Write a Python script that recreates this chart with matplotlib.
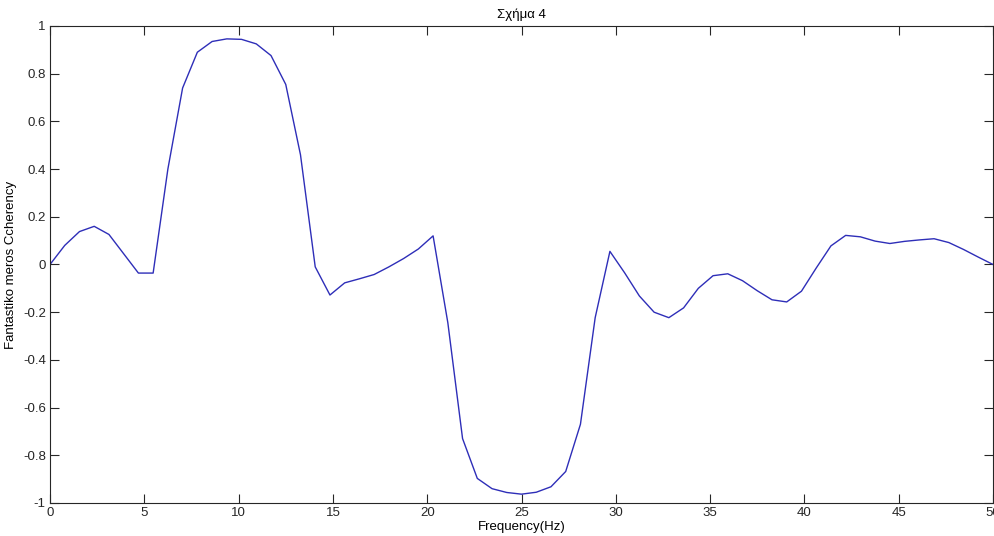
import numpy as np
import matplotlib
matplotlib.use("Agg")
import matplotlib.pyplot as plt
from matplotlib.ticker import FuncFormatter

# frequency bins: 65 samples from 0 to 50 Hz (step 50/64)
freq = np.linspace(0, 50, 65)

# imaginary part of coherency
imag_coh = [
    0.000, 0.080, 0.138, 0.160, 0.126, 0.045, -0.036, -0.036,
    0.400, 0.740, 0.890, 0.935, 0.946, 0.944, 0.925, 0.876,
    0.755, 0.460, -0.010, -0.128, -0.077, -0.060, -0.042, -0.010,
    0.025, 0.065, 0.120, -0.244, -0.730, -0.897, -0.940, -0.956,
    -0.963, -0.955, -0.932, -0.868, -0.670, -0.223, 0.055, -0.035,
    -0.132, -0.200, -0.223, -0.182, -0.100, -0.047, -0.039, -0.068,
    -0.110, -0.148, -0.157, -0.112, -0.015, 0.078, 0.122, 0.116,
    0.098, 0.088, 0.097, 0.103, 0.108, 0.092, 0.063, 0.031, 0.000,
]

xticks = [0, 5, 10, 15, 20, 25, 30, 35, 40, 45, 50]
yticks = [-1, -0.8, -0.6, -0.4, -0.2, 0, 0.2, 0.4, 0.6, 0.8, 1]

plt.rcParams["font.family"] = ["Liberation Sans", "DejaVu Sans"]
plt.rcParams["font.size"] = 9.5

fig = plt.figure(figsize=(9.94, 5.36), dpi=100)
ax = fig.add_axes([0.0503, 0.0616, 0.9487, 0.8899])

ax.plot(freq, imag_coh, color="#2e2eb8", linewidth=1.0)

ax.set_xlim(0, 50)
ax.set_ylim(-1, 1)
ax.set_xticks(xticks)
ax.set_yticks(yticks)
ax.yaxis.set_major_formatter(FuncFormatter(lambda v, _: f"{v:g}"))
ax.tick_params(direction="in", length=6.7, width=0.8, top=True, right=True,
               colors="#262626", labelsize=9.5, pad=3)
for sp in ax.spines.values():
    sp.set_color("#262626")
    sp.set_linewidth(0.8)

ax.set_title("Σχήμα 4", fontsize=9.5, pad=6)
ax.set_xlabel("Frequency(Hz)", fontsize=9.5, labelpad=1)
ax.set_ylabel("Fantastiko meros Ccherency", fontsize=9.5, labelpad=4)

fig.savefig("out.png", dpi=100)
